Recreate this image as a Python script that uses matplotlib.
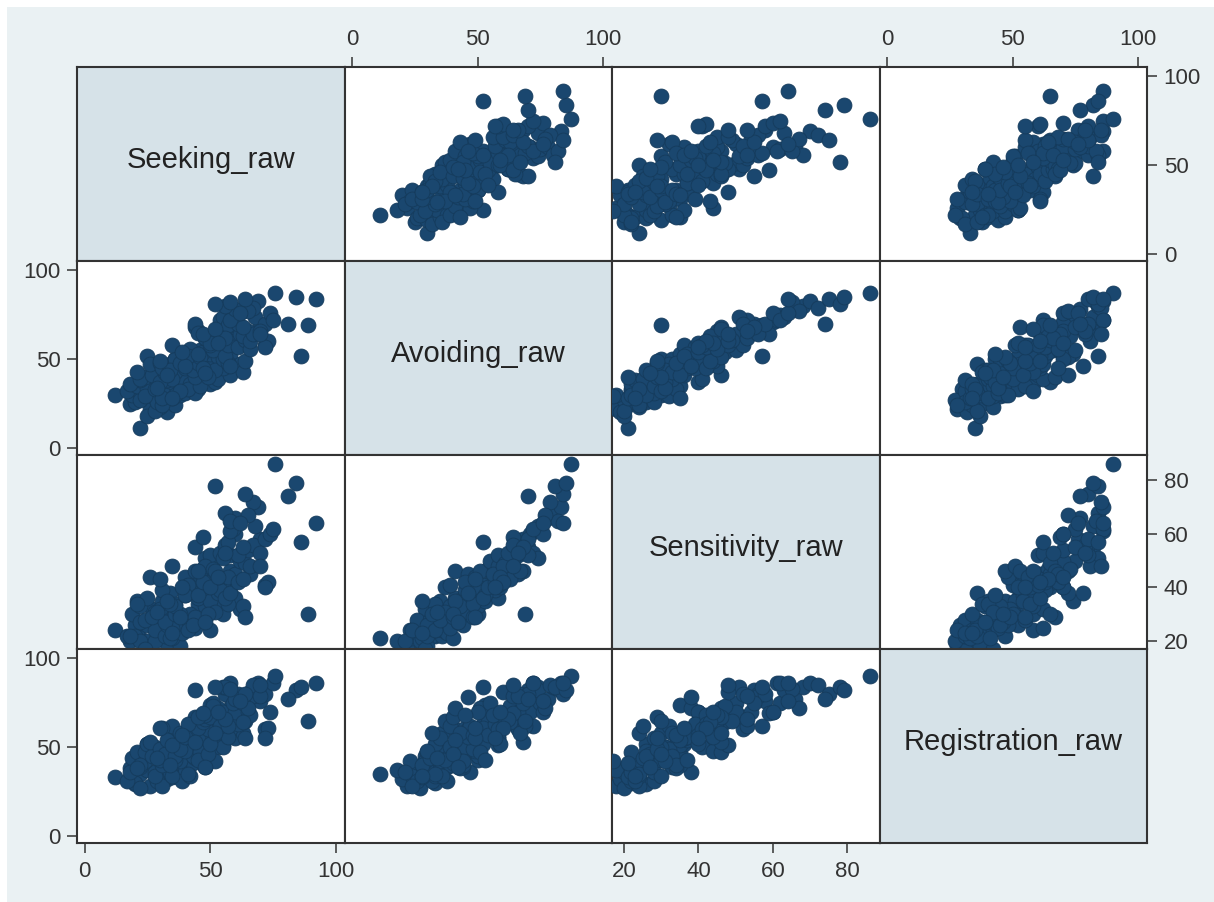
import matplotlib
matplotlib.use("Agg")
import matplotlib.pyplot as plt
from matplotlib.patches import Rectangle

# raw scores, one entry per respondent
seeking = [22, 12, 18, 26, 21, 33, 20, 19, 25, 36, 20, 22, 27, 17, 30, 28, 38, 21, 29, 25,
           35, 22, 40, 18, 31, 33, 24, 28, 43, 32,
           33, 45, 24, 34, 50, 32, 22, 38, 47, 31, 28, 39, 44, 36, 52, 34, 25, 48, 27, 36,
           42, 26, 35, 55, 30, 41, 30, 46, 32, 40, 21, 44, 53, 36, 43, 38, 35, 29, 31, 58,
           45, 58, 36, 49, 46, 55, 50, 40, 42, 62, 45, 53, 34, 41, 60, 52, 47, 38, 55, 40,
           48, 63, 46, 54, 33, 51, 57, 45, 49, 53, 35, 56, 47, 39, 64, 44, 58, 50, 48, 30,
           48, 58, 60, 44, 62, 57, 70, 54, 51, 61, 56, 64, 45, 60, 50, 65, 55, 66, 57, 63,
           59, 66, 47, 61, 72, 56, 52, 67, 53, 58,
           68, 60, 72, 56, 74, 69, 63, 67, 58, 65, 75, 64, 70, 52, 62,
           76, 84, 92, 81, 89, 86, 73, 72, 70]
avoiding = [11, 30, 25, 22, 28, 20, 26, 30, 18, 24, 33, 27, 29, 32, 23, 21, 30, 35, 26, 34,
            28, 38, 31, 36, 24, 36, 29, 33, 35, 30,
            38, 33, 40, 47, 36, 44, 39, 35, 41, 28, 45, 38, 31, 43, 37, 40, 52, 44, 41, 30,
            36, 47, 39, 42, 37, 33, 48, 35, 42, 45, 43, 40, 39, 50, 44, 32, 28, 34, 45, 41,
            48, 52, 50, 46, 55, 45, 53, 49, 56, 47, 66, 51, 44, 52, 58, 44, 54, 48, 50, 46,
            62, 43, 51, 57, 41, 55, 48, 53, 40, 60, 58, 52, 45, 54, 49, 68, 46, 58, 42, 49,
            62, 66, 60, 70, 64, 58, 68, 72, 63, 57, 67, 61, 65, 71, 59, 66, 74, 56, 69, 63,
            75, 60, 64, 70, 58, 62, 67, 64, 59, 72,
            74, 78, 70, 80, 76, 83, 68, 79, 82, 77, 72, 84, 66, 81, 76,
            87, 85, 84, 70, 69, 52, 60, 57, 64]
sensitivity = [21, 24, 20, 18, 23, 19, 26, 30, 20, 21, 22, 20, 32, 22, 24, 20, 18, 35, 28, 26,
               21, 27, 28, 22, 24, 31, 17, 24, 27, 22,
               26, 34, 28, 38, 24, 30, 33, 27, 36, 35, 31, 23, 25, 34, 40, 21, 36, 33, 29, 26,
               30, 44, 25, 35, 31, 24, 32, 28, 27, 37, 34, 29, 41, 30, 26, 30, 23, 31, 39, 46,
               36, 40, 33, 45, 42, 30, 35, 44, 39, 32, 45, 38, 34, 41, 36, 31, 47, 29, 40, 37,
               51, 33, 46, 39, 35, 50, 34, 37, 30, 44, 48, 36, 42, 40, 29, 46, 38, 52, 27, 43,
               48, 52, 45, 55, 50, 44, 58, 53, 47, 42, 56, 49, 46, 60, 40, 54, 51, 45, 57, 43,
               62, 48, 59, 52, 41, 53, 46, 56, 44, 61,
               63, 66, 58, 68, 60, 70, 55, 72, 65, 67, 62, 75, 53, 78, 64,
               86, 79, 64, 74, 30, 57, 42, 40, 48]
registration = [35, 33, 38, 28, 40, 32, 29, 44, 37, 34, 30, 27, 45, 31, 42, 36, 37, 47, 31, 52,
                33, 39, 36, 36, 28, 50, 42, 34, 41, 47,
                44, 52, 47, 36, 58, 45, 40, 42, 60, 40, 50, 31, 44, 57, 65, 41, 52, 39, 45, 48,
                34, 53, 62, 51, 43, 35, 49, 55, 46, 54, 38, 67, 50, 43, 45, 58, 34, 44, 61, 72,
                55, 70, 45, 60, 66, 50, 74, 48, 59, 62, 61, 72, 40, 63, 55, 42, 64, 49, 70, 56,
                66, 58, 47, 63, 54, 75, 57, 43, 46, 65, 51, 61, 68, 57, 55, 53, 78, 67, 39, 61,
                68, 60, 65, 82, 70, 56, 76, 62, 73, 63, 80, 65, 67, 70, 52, 70, 84, 68, 62, 64,
                75, 81, 69, 80, 60, 66, 58, 79, 70, 86,
                82, 77, 80, 84, 70, 86, 75, 85, 83, 72, 86, 80, 79, 84, 76,
                90, 82, 86, 77, 65, 84, 61, 55, 85]

names = ["Seeking_raw", "Avoiding_raw", "Sensitivity_raw", "Registration_raw"]
tick_vals = [[0, 50, 100], [0, 50, 100], [20, 40, 60, 80], [0, 50, 100]]
data = [seeking, avoiding, sensitivity, registration]

xlims = [(-3, 103.5), (-3, 103.5), (16.8, 88.6), (-3, 103.5)]
ylims = [(-4, 105.3), (-4, 105.3), (17, 89.5), (-4, 105.3)]

bg = "#EAF1F3"
diag_col = "#D6E2E8"
navy = "#1A476F"
frame = "#333333"

plt.rcParams["font.family"] = ["Liberation Sans", "DejaVu Sans"]

W, H = 1214, 902
fig = plt.figure(figsize=(W / 100, H / 100), dpi=100)
fig.patch.set_facecolor("white")
fig.patches.append(Rectangle((7 / W, 0), 1 - 7 / W, 1 - 7 / H, transform=fig.transFigure,
                             facecolor=bg, edgecolor="none", zorder=-10))

left, top = 77 / W, 1 - 67 / H
pw, ph = 267.5 / W, 194 / H

for i in range(4):
    for j in range(4):
        ax = fig.add_axes([left + j * pw, top - (i + 1) * ph, pw, ph])
        ax.set_xlim(xlims[j])
        ax.set_ylim(ylims[i])
        for sp in ax.spines.values():
            sp.set_color(frame)
            sp.set_linewidth(1.5)
        ax.set_xticks([])
        ax.set_yticks([])
        if i == j:
            ax.set_facecolor(diag_col)
            ax.text(0.5, 0.52, names[i], transform=ax.transAxes, ha="center", va="center",
                    fontsize=21, color="#222222")
        else:
            ax.set_facecolor("white")
            ax.scatter(data[j], data[i], s=115, color=navy, edgecolors="#153b5c",
                       linewidths=0.6, zorder=3)

        tp = dict(length=7, width=1.1, color=frame, labelcolor="#333333", labelsize=16)
        # x axes alternate bottom / top
        if j in (0, 2) and i == 3:
            ax.set_xticks(tick_vals[j])
            ax.tick_params(axis="x", bottom=True, labelbottom=True, pad=6, **tp)
        if j in (1, 3) and i == 0:
            ax.set_xticks(tick_vals[j])
            ax.tick_params(axis="x", top=True, labeltop=True, bottom=False,
                           labelbottom=False, pad=5, **tp)
        # y axes alternate left / right
        if i in (1, 3) and j == 0:
            ax.set_yticks(tick_vals[i])
            ax.tick_params(axis="y", left=True, labelleft=True, pad=5, **tp)
        if i in (0, 2) and j == 3:
            ax.set_yticks(tick_vals[i])
            ax.tick_params(axis="y", right=True, labelright=True, left=False,
                           labelleft=False, pad=5, **tp)

fig.savefig("out.png", dpi=100)
